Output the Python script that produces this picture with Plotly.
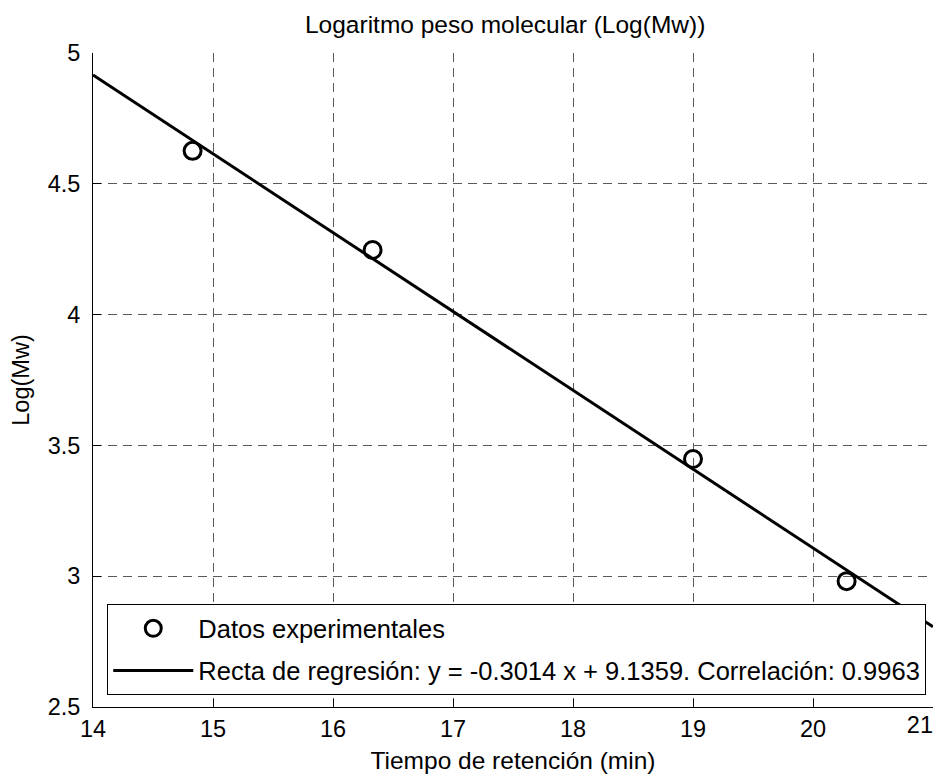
import plotly.graph_objects as go

# Data
tiempo = [14.83, 16.33, 19.00, 20.28]
log_mw = [4.626, 4.247, 3.448, 2.981]
pendiente = -0.3014
ordenada = 9.1359
correlacion = 0.9963
x_linea = [14, 21]
x_ticks = [14, 15, 16, 17, 18, 19, 20, 21]
y_ticks = [2.5, 3, 3.5, 4, 4.5, 5]
y_ticktext = ["2.5", "3", "3.5", "4", "4.5", "5"]

y_linea = [pendiente * x + ordenada for x in x_linea]

FONT = "Liberation Sans, Arial, Helvetica, sans-serif"
FS = 23.5

fig = go.Figure()
fig.add_trace(go.Scatter(
    x=tiempo, y=log_mw, mode="markers", name="Datos experimentales",
    legendgroup="a",
    marker=dict(symbol="circle-open", size=17, color="black", line=dict(width=3, color="black")),
))
# regression line drawn on the overlay x axis (same range as the main x axis)
fig.add_trace(go.Scatter(
    x=x_linea, y=y_linea, mode="lines", legendgroup="b", xaxis="x2", yaxis="y",
    name=f"Recta de regresión: y = {pendiente:.4f} x + {ordenada:.4f}. Correlación: {correlacion:.4f}",
    line=dict(color="black", width=3),
))

axis_common = dict(
    showgrid=True, gridcolor="#5a5a5a", griddash="9px,6px", gridwidth=1,
    showline=True, linecolor="black", linewidth=1,
    ticks="inside", ticklen=8, tickcolor="black",
    zeroline=False, tickfont=dict(size=FS, color="black"),
)

# the last x label ("21") sits at the right edge: put it on the overlay axis, right-aligned
x_text = [str(t) for t in x_ticks[:-1]] + [""]

fig.update_layout(
    xaxis=dict(range=[14, 21], tickvals=x_ticks, ticktext=x_text,
               title=dict(text="Tiempo de retención (min)", font=dict(size=24.5), standoff=10),
               ticklabelstandoff=1, **axis_common),
    yaxis=dict(range=[2.5, 5], tickvals=y_ticks, ticktext=y_ticktext,
               title=dict(text="Log(Mw)", font=dict(size=FS), standoff=13),
               ticklabelstandoff=7, **axis_common),
    xaxis2=dict(overlaying="x", anchor="y", side="bottom", range=[14, 21],
                tickvals=[x_ticks[-1]], ticktext=[str(x_ticks[-1])],
                showgrid=False, showline=False, zeroline=False, ticks="",
                tickfont=dict(size=FS, color="black"),
                ticklabelposition="outside left", ticklabelstandoff=1),
    width=931, height=767,
    margin=dict(l=85, r=6, t=45, b=62),
    paper_bgcolor="white", plot_bgcolor="white",
    font=dict(family=FONT, color="black", size=FS),
    title=dict(text="Logaritmo peso molecular (Log(Mw))", x=0.534, xanchor="center",
               y=0.979, yanchor="middle", font=dict(size=24.5)),
    legend=dict(x=0.017, y=0.018, xanchor="left", yanchor="bottom",
                bgcolor="white", bordercolor="black", borderwidth=1,
                font=dict(size=25.5), itemwidth=80, traceorder="grouped",
                tracegroupgap=6),
    showlegend=True,
)

fig.write_html("out.html", config=dict(displayModeBar=False))
